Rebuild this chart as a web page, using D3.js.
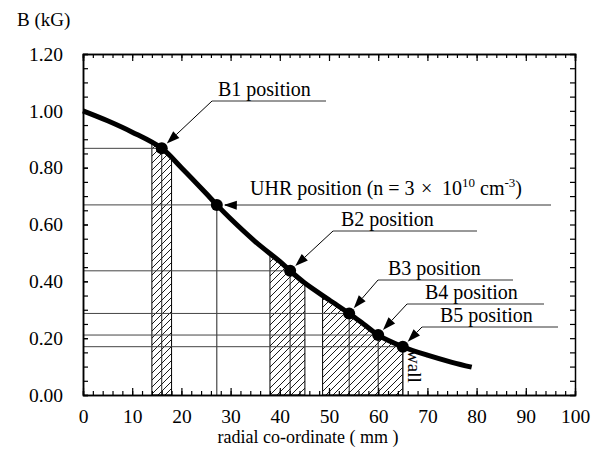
<!DOCTYPE html>
<html><head><meta charset="utf-8">
<script src="https://cdn.jsdelivr.net/npm/d3@7"></script>
<style>body{margin:0;background:#fff}svg{display:block}</style>
</head><body>
<svg id="c" width="599" height="469"></svg>
<script>
// ---- data ----
const curveR = [0, 5, 10, 16, 20, 25, 27.2, 30, 35, 40, 42.1, 45, 50, 54.1, 57, 60, 65, 70, 75, 79];
const curveB = [1.00, 0.965, 0.925, 0.868, 0.80, 0.71, 0.669, 0.62, 0.54, 0.47, 0.437, 0.395, 0.335, 0.287, 0.25, 0.211, 0.17, 0.14, 0.115, 0.098];
const markerNames = ["B1", "UHR", "B2", "B3", "B4", "B5"];
const markerR = [16, 27.2, 42.1, 54.1, 60, 65];
const markerB = [0.868, 0.669, 0.437, 0.287, 0.211, 0.17];
const hatchStart = [14, 38, 48.7];
const hatchEnd = [18, 45.1, 65];
const xTickLabels = [0, 10, 20, 30, 40, 50, 60, 70, 80, 90, 100];
const yTickLabels = [0, 0.2, 0.4, 0.6, 0.8, 1.0, 1.2];

// ---- layout ----
const L = 83, R = 575, T = 54, B = 395;
const FONT = "'Liberation Serif','Times New Roman',serif";
const labelLayout = {
  B1:  {tx: 218, ty: 96,  uy: 101, ux0: 212, ux1: 326},
  UHR: {tx: 250, ty: 195, uy: 205, ux0: 225, ux1: 551},
  B2:  {tx: 341, ty: 226, uy: 231, ux0: 333, ux1: 477},
  B3:  {tx: 388, ty: 275, uy: 280, ux0: 378, ux1: 513},
  B4:  {tx: 425, ty: 299, uy: 304, ux0: 407, ux1: 544},
  B5:  {tx: 440, ty: 322, uy: 327, ux0: 422, ux1: 558}
};

const svg = d3.select("#c");
const x = d3.scaleLinear().domain([0, 100]).range([L, R]);
const y = d3.scaleLinear().domain([0, 1.2]).range([B, T]);
const pts = curveR.map((r, i) => [r, curveB[i]]);
const curveType = d3.curveCatmullRom.alpha(0.5);

const defs = svg.append("defs");
const pat = defs.append("pattern").attr("id", "hatch").attr("patternUnits", "userSpaceOnUse")
  .attr("width", 7).attr("height", 7);
pat.append("path").attr("d", "M-1,8 L8,-1 M-4,4 L4,-4 M3,11 L11,3").attr("stroke", "#000").attr("stroke-width", 0.9);

const areaGen = d3.area().x(d => x(d[0])).y0(y(0)).y1(d => y(d[1])).curve(curveType);
defs.append("clipPath").attr("id", "under").append("path").attr("d", areaGen(pts));

hatchStart.forEach((s, i) => {
  svg.append("rect").attr("x", x(s)).attr("y", T).attr("width", x(hatchEnd[i]) - x(s)).attr("height", B - T)
    .attr("fill", "url(#hatch)").attr("stroke", "#000").attr("stroke-width", 1)
    .attr("clip-path", "url(#under)");
});

markerNames.forEach((n, i) => {
  const cx = x(markerR[i]), cy = y(markerB[i]);
  svg.append("line").attr("x1", L).attr("x2", cx).attr("y1", cy).attr("y2", cy)
    .attr("stroke", "#444").attr("stroke-width", 1);
  svg.append("line").attr("x1", cx).attr("x2", cx).attr("y1", cy).attr("y2", B)
    .attr("stroke", "#222").attr("stroke-width", 1);
});

function styleAxis(g) {
  g.selectAll("path.domain").attr("stroke", "#000").attr("stroke-width", 1.5);
  g.selectAll(".tick line").attr("stroke", "#000").attr("stroke-width", 1.2);
  g.selectAll("text").attr("font-family", FONT).attr("font-size", 19.5).attr("fill", "#000");
}
const xMinor = d3.range(0, 101, 2);
const yMinor = d3.range(0, 1.2001, 0.05);
svg.append("g").attr("transform", `translate(0,${B})`)
  .call(d3.axisBottom(x).tickValues(xMinor).tickSize(-4).tickFormat(""))
  .call(styleAxis);
svg.append("g").attr("transform", `translate(0,${B})`)
  .call(d3.axisBottom(x).tickValues(xTickLabels).tickSizeInner(-7).tickSizeOuter(0).tickPadding(14).tickFormat(d3.format("d")))
  .call(styleAxis);
svg.append("g").attr("transform", `translate(0,${T})`)
  .call(d3.axisTop(x).tickValues(xMinor).tickSize(-4).tickFormat(""))
  .call(styleAxis);
svg.append("g").attr("transform", `translate(0,${T})`)
  .call(d3.axisTop(x).tickValues(xTickLabels).tickSize(-7).tickFormat(""))
  .call(styleAxis);
svg.append("g").attr("transform", `translate(${L},0)`)
  .call(d3.axisLeft(y).tickValues(yMinor).tickSize(-5).tickFormat(""))
  .call(styleAxis);
svg.append("g").attr("transform", `translate(${L},0)`)
  .call(d3.axisLeft(y).tickValues(yTickLabels).tickSizeInner(-5).tickSizeOuter(0).tickPadding(20).tickFormat(d3.format(".2f")))
  .call(styleAxis);
svg.append("g").attr("transform", `translate(${R},0)`)
  .call(d3.axisRight(y).tickValues(yMinor).tickSize(-5).tickFormat(""))
  .call(styleAxis);

const lineGen = d3.line().x(d => x(d[0])).y(d => y(d[1])).curve(curveType);
svg.append("path").attr("d", lineGen(pts)).attr("fill", "none").attr("stroke", "#000")
  .attr("stroke-width", 5).attr("stroke-linecap", "butt");

markerNames.forEach((n, i) => {
  svg.append("circle").attr("cx", x(markerR[i])).attr("cy", y(markerB[i])).attr("r", 6).attr("fill", "#000");
});

const labelText = {
  B1: "B1 position", B2: "B2 position", B3: "B3 position", B4: "B4 position", B5: "B5 position"
};
markerNames.forEach((n, i) => {
  const lay = labelLayout[n];
  const cx = x(markerR[i]), cy = y(markerB[i]);
  svg.append("line").attr("x1", lay.ux0).attr("x2", lay.ux1).attr("y1", lay.uy).attr("y2", lay.uy)
    .attr("stroke", "#333").attr("stroke-width", 1);
  const dx = cx - lay.ux0, dy = cy - lay.uy, len = Math.hypot(dx, dy);
  const ux = dx / len, uy = dy / len;
  const tipD = len - 7, headLen = 13, hw = 4.5;
  const tx = lay.ux0 + ux * tipD, ty = lay.uy + uy * tipD;
  const bx = tx - ux * headLen, by = ty - uy * headLen;
  svg.append("line").attr("x1", lay.ux0).attr("y1", lay.uy).attr("x2", bx).attr("y2", by)
    .attr("stroke", "#000").attr("stroke-width", 1);
  svg.append("path").attr("d", `M${tx},${ty} L${bx - uy * hw},${by + ux * hw} L${bx + uy * hw},${by - ux * hw} Z`)
    .attr("fill", "#000");
  const t = svg.append("text").attr("x", lay.tx).attr("y", lay.ty)
    .attr("font-family", FONT).attr("font-size", 20).attr("fill", "#000");
  if (n === "UHR") {
    t.append("tspan").text("UHR position (n = 3");
    t.append("tspan").attr("x", lay.tx + 171).text("\u00D7");
    t.append("tspan").attr("x", lay.tx + 192).text("10");
    t.append("tspan").attr("font-size", 13).attr("dy", -8).text("10");
    t.append("tspan").attr("dy", 8).attr("x", lay.tx + 230).text("cm");
    t.append("tspan").attr("font-size", 13).attr("dy", -8).text("-3");
    t.append("tspan").attr("dy", 8).text(")");
  } else {
    t.text(labelText[n]);
  }
});

svg.append("text").attr("transform", `translate(${x(65) + 5},${350}) rotate(90)`)
  .attr("font-family", FONT).attr("font-size", 19).attr("fill", "#000").text("wall");

svg.append("text").attr("x", 17).attr("y", 26).attr("font-family", FONT).attr("font-size", 19).text("B (kG)");
svg.append("text").attr("x", 308).attr("y", 443).attr("text-anchor", "middle")
  .attr("font-family", FONT).attr("font-size", 18).text("radial co-ordinate ( mm )");
</script>
</body></html>
